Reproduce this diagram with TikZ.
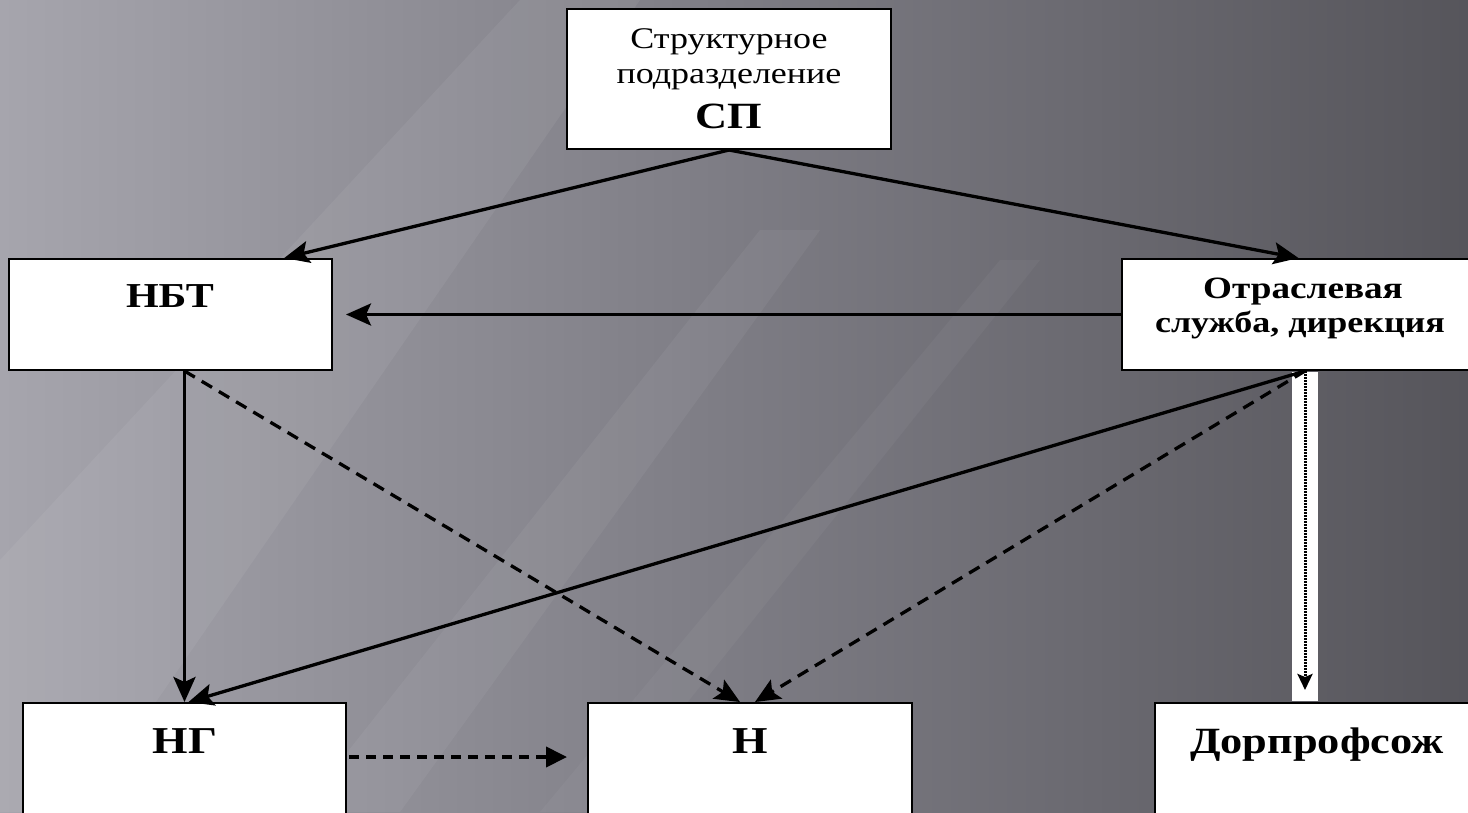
\documentclass[tikz,border=0pt]{standalone}
\usepackage{fontspec}
\setmainfont[FakeStretch=1.2]{Liberation Serif}
\usetikzlibrary{positioning, arrows.meta, calc}

\definecolor{bgleft}{HTML}{A6A5AD}
\definecolor{bgmid}{HTML}{7D7C84}
\definecolor{bgright}{HTML}{56555B}

\begin{document}
\begin{tikzpicture}[
    x=1pt, y=-1pt,
    box/.style={draw=black, line width=2pt, fill=white, inner sep=0pt},
    label/.style={anchor=base, inner sep=0pt},
    arrow/.style={-{Stealth[length=25pt, width=22pt, inset=5pt]}, line width=3.3pt},
    dasharrow/.style={arrow, dash pattern=on 12pt off 8pt},
    dotarrow/.style={-{Stealth[length=16pt, width=15pt, inset=3pt]}, line width=3pt, dash pattern=on 1.5pt off 1.5pt}
]
    % Background
    \clip (0,0) rectangle (1468,812);
    \shade[left color=bgleft, right color=bgright, middle color=bgmid] (0,0) rectangle (1468,812);
    \fill[white, opacity=0.06] (0,560) -- (520,0) -- (640,0) -- (80,812) -- (0,812) -- cycle;
    \fill[white, opacity=0.05] (300,812) -- (760,230) -- (820,230) -- (400,812) -- cycle;
    \fill[white, opacity=0.04] (540,812) -- (1000,260) -- (1040,260) -- (600,812) -- cycle;

    % Boxes
    \node[box, minimum width=324pt, minimum height=140pt] (cp) at (729,79) {};
    \node[box, minimum width=323pt, minimum height=111pt] (nbt) at (170.5,314.5) {};
    \node[box, minimum width=353pt, minimum height=111pt] (otr) at (1298.5,314.5) {};
    \node[box, minimum width=323pt, minimum height=130pt] (ng) at (184.5,768) {};
    \node[box, minimum width=324pt, minimum height=130pt] (n) at (750,768) {};
    \node[box, minimum width=320pt, minimum height=130pt] (dor) at (1315,768) {};

    % Texts
    \node[label, font=\fontsize{30}{30}\selectfont] (cpline1) at (729,48) {Структурное};
    \node[label, font=\fontsize{30}{30}\selectfont] (cpline2) at (729,83) {подразделение};
    \node[label, font=\bfseries\fontsize{37}{37}\selectfont] (cpline3) at (729,128) {СП};
    \node[label, font=\bfseries\fontsize{35}{35}\selectfont] (nbttext) at (170,307) {НБТ};
    \node[label, font=\bfseries\fontsize{31}{31}\selectfont] (otrline1) at (1303,298) {Отраслевая};
    \node[label, font=\bfseries\fontsize{30}{30}\selectfont] (otrline2) at (1300,332) {служба, дирекция};
    \node[label, font=\bfseries\fontsize{38}{38}\selectfont] (ngtext) at (185,753) {НГ};
    \node[label, font=\bfseries\fontsize{38}{38}\selectfont] (ntext) at (750,753) {Н};
    \node[label, font=\bfseries\fontsize{37}{37}\selectfont] (dortext) at (1317,753) {Дорпрофсож};

    % White strip
    \fill[white] (1292,372) rectangle (1318,701);
    \coordinate (os) at ([xshift=6.5pt]otr.south);

    % Arrows
    \draw[arrow] (cp.south) -- ($(nbt.north west)!0.85!(nbt.north east)$);
    \draw[arrow] (cp.south) -- (otr.north);
    \draw[arrow, shorten >=13pt] (otr.west) -- (nbt.east);
    \draw[arrow] (ng.north |- nbt.south) -- (ng.north);
    \draw[dasharrow] (ng.north |- nbt.south) -- ([xshift=-10pt]n.north);
    \draw[arrow] (os) -- ([xshift=4pt]ng.north);
    \draw[dasharrow] (os) -- ([xshift=5pt]n.north);
    \draw[dotarrow, shorten >=12pt] (os) -- (os |- dor.north);
    \draw[-{Triangle[length=21pt, width=20pt]}, line width=4pt, dash pattern=on 10pt off 7pt,
        shorten >=20pt, shorten <=2pt] ([yshift=11pt]ng.east) -- ([yshift=11pt]n.west);
\end{tikzpicture}
\end{document}
